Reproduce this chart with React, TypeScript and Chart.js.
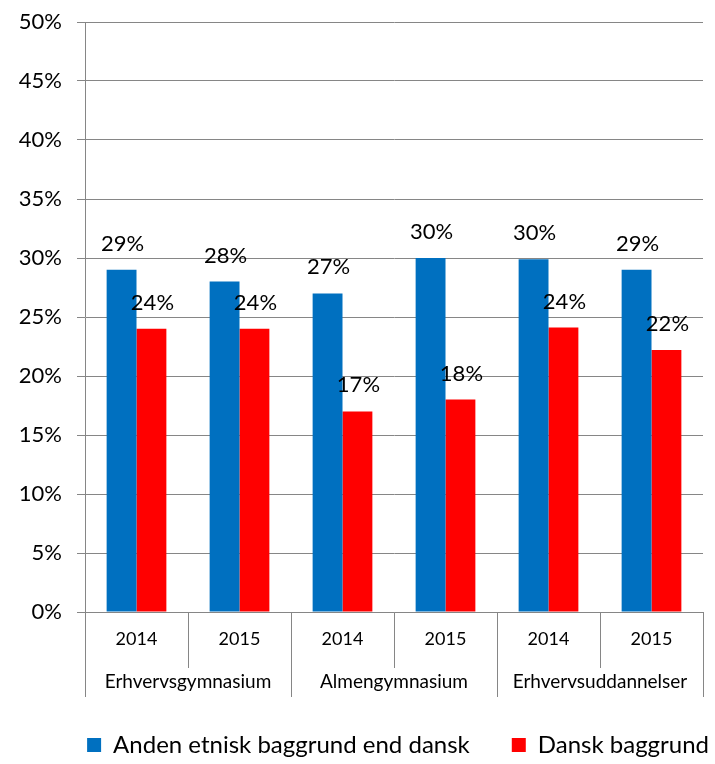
import React, { useEffect, useRef } from "react";
import { Chart, registerables } from "chart.js";

Chart.register(...registerables);

const categories = ["2014", "2015", "2014", "2015", "2014", "2015"];
const groups = ["Erhvervsgymnasium", "Almengymnasium", "Erhvervsuddannelser"];
const seriesAnden = [29, 28, 27, 30, 29.9, 29];
const seriesDansk = [24, 24, 17, 18, 24.1, 22.2];
const seriesNames = ["Anden etnisk baggrund end dansk", "Dansk baggrund"];
const yMin = 0;
const yMax = 50;
const yStep = 5;

const FONT = "Lato, 'Open Sans', sans-serif";
const GRID = "#868686";

const dataLabelPlugin = {
  id: "dataLabels",
  afterDatasetsDraw(chart: any) {
    const ctx = chart.ctx;
    ctx.save();
    ctx.font = `22px ${FONT}`;
    ctx.fillStyle = "#000";
    ctx.textAlign = "center";
    ctx.textBaseline = "alphabetic";
    chart.data.datasets.forEach((ds: any, i: number) => {
      const meta = chart.getDatasetMeta(i);
      meta.data.forEach((bar: any, j: number) => {
        const v = ds.data[j];
        ctx.fillText(Math.round(v) + "%", bar.x + 1, bar.y - 19);
      });
    });
    ctx.restore();
  },
};

export default function App() {
  const ref = useRef<HTMLCanvasElement>(null);
  useEffect(() => {
    if (!ref.current) return;
    const chart = new Chart(ref.current, {
      type: "bar",
      data: {
        labels: categories,
        datasets: [
          {
            label: seriesNames[0],
            data: seriesAnden,
            backgroundColor: "#0070C0",
            categoryPercentage: 0.58,
            barPercentage: 1,
          },
          {
            label: seriesNames[1],
            data: seriesDansk,
            backgroundColor: "#FF0000",
            categoryPercentage: 0.58,
            barPercentage: 1,
          },
        ],
      },
      options: {
        animation: false,
        responsive: true,
        maintainAspectRatio: false,
        layout: { padding: { top: 22, right: 0, left: 0, bottom: -3 } },
        plugins: {
          tooltip: { enabled: false },
          legend: {
            position: "bottom",
            align: "end",
            labels: {
              boxWidth: 14,
              boxHeight: 14,
              padding: 6,
              color: "#000",
              font: { family: FONT, size: 24 },
              generateLabels: (chart: any) => {
                const items = Chart.defaults.plugins.legend.labels.generateLabels(chart);
                return items.map((it: any, i: number) => ({
                  ...it,
                  text: i === 0 ? it.text + "\u2003\u2003" : it.text,
                  lineWidth: 0,
                }));
              },
            },
          },
        },
        scales: {
          x: {
            type: "category",
            position: "bottom",
            weight: 0,
            grid: {
              offset: true,
              drawOnChartArea: false,
              tickLength: 56,
              color: GRID,
            },
            border: { color: GRID },
            ticks: {
              color: "#000",
              font: { family: FONT, size: 18 },
              padding: -40,
              maxRotation: 0,
              autoSkip: false,
            },
            afterFit: (s: any) => {
              s.height = 56;
              s.paddingLeft = 0;
              s.paddingRight = 0;
            },
          },
          x2: {
            type: "category",
            position: "bottom",
            weight: 1,
            labels: groups,
            grid: {
              offset: true,
              drawOnChartArea: false,
              tickLength: 29,
              color: GRID,
            },
            border: { display: false },
            ticks: {
              color: "#000",
              font: { family: FONT, size: 19 },
              padding: -27,
              maxRotation: 0,
              autoSkip: false,
            },
            afterFit: (s: any) => {
              s.height = 59;
              s.paddingLeft = 0;
              s.paddingRight = 0;
            },
          },
          y: {
            min: yMin,
            max: yMax,
            ticks: {
              stepSize: yStep,
              callback: (v: any) => v + "%",
              color: "#000",
              font: { family: FONT, size: 22 },
              padding: 15,
            },
            grid: { color: GRID, tickLength: 8 },
            border: { color: GRID },
            afterFit: (s: any) => {
              s.width = 85;
              s.paddingTop = 0;
              s.paddingBottom = 0;
            },
          },
          yr: {
            type: "linear",
            position: "right",
            display: true,
            grid: { display: false },
            border: { display: false },
            ticks: { display: false },
            afterFit: (s: any) => {
              s.width = 12;
              s.paddingTop = 0;
              s.paddingBottom = 0;
            },
          },
        },
      } as any,
      plugins: [dataLabelPlugin],
    });
    return () => chart.destroy();
  }, []);
  return (
    <div style={{ position: "absolute", left: 0, top: 0, width: 715, height: 764 }}>
      <canvas ref={ref} />
    </div>
  );
}
